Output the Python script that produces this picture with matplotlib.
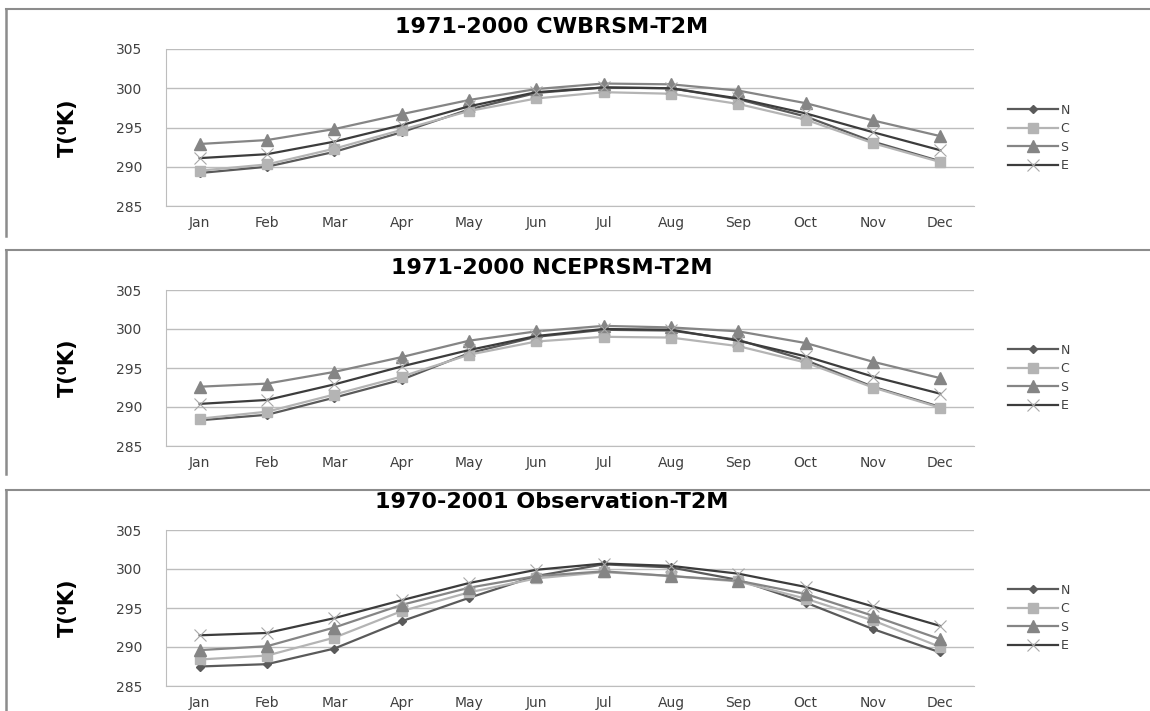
import matplotlib
matplotlib.use('Agg')
import matplotlib.pyplot as plt
from matplotlib.lines import Line2D

months = ['Jan', 'Feb', 'Mar', 'Apr', 'May', 'Jun', 'Jul', 'Aug', 'Sep', 'Oct', 'Nov', 'Dec']
titles = ['1971-2000 CWBRSM-T2M', '1971-2000 NCEPRSM-T2M', '1970-2001 Observation-T2M']

# 1971-2000 CWBRSM
cwb_n = [289.2, 290.0, 291.9, 294.4, 297.3, 299.4, 300.1, 300.0, 298.6, 296.4, 293.2, 290.7]
cwb_c = [289.5, 290.3, 292.3, 294.7, 297.1, 298.7, 299.5, 299.3, 298.0, 296.0, 293.0, 290.6]
cwb_s = [292.9, 293.4, 294.8, 296.7, 298.5, 299.9, 300.6, 300.5, 299.7, 298.1, 295.9, 293.9]
cwb_e = [291.1, 291.6, 293.2, 295.3, 297.7, 299.5, 300.1, 300.0, 298.7, 296.8, 294.4, 292.1]

# 1971-2000 NCEPRSM
ncep_n = [288.3, 289.0, 291.2, 293.5, 296.9, 299.0, 299.9, 299.8, 298.6, 296.0, 292.6, 290.0]
ncep_c = [288.5, 289.4, 291.6, 293.9, 296.7, 298.4, 299.0, 298.9, 297.8, 295.7, 292.5, 289.9]
ncep_s = [292.6, 293.0, 294.5, 296.4, 298.5, 299.7, 300.4, 300.2, 299.7, 298.2, 295.8, 293.7]
ncep_e = [290.4, 290.9, 292.9, 295.2, 297.3, 299.1, 300.0, 299.9, 298.5, 296.5, 293.9, 291.7]

# 1970-2001 observation
obs_n = [287.5, 287.8, 289.8, 293.3, 296.3, 299.1, 300.6, 300.2, 298.6, 295.7, 292.3, 289.3]
obs_c = [288.4, 288.9, 291.2, 294.6, 297.0, 298.8, 299.6, 299.1, 298.4, 296.2, 293.4, 290.0]
obs_s = [289.6, 290.1, 292.5, 295.4, 297.6, 299.1, 299.7, 299.1, 298.5, 296.8, 294.0, 291.0]
obs_e = [291.5, 291.8, 293.7, 296.0, 298.2, 299.9, 300.7, 300.4, 299.4, 297.7, 295.2, 292.7]

panels = [
    (cwb_n, cwb_c, cwb_s, cwb_e),
    (ncep_n, ncep_c, ncep_s, ncep_e),
    (obs_n, obs_c, obs_s, obs_e),
]
names = ['N', 'C', 'S', 'E']

styles = [
    dict(color='#5a5a5a', lw=1.6, marker='D', ms=4.5, mfc='#5a5a5a', mec='#5a5a5a'),
    dict(color='#b4b4b4', lw=1.6, marker='s', ms=7, mfc='#b4b4b4', mec='#b4b4b4'),
    dict(color='#858585', lw=1.6, marker='^', ms=8, mfc='#858585', mec='#858585'),
    dict(color='#3c3c3c', lw=1.6, marker='x', ms=9, mec='#a8a8a8', mew=0.8),
]

W, H = 1150, 711
fig = plt.figure(figsize=(W / 100, H / 100), dpi=100)

ax_top = [49, 290, 530]
ax_bot = [206, 446, 686]
frame_top = [9, 250, 490]
frame_bot = [236, 474, 711]
title_y = [27, 268, 502]
legend_y = [138, 378, 618]
ax_left, ax_right = 166, 974

for i, data in enumerate(panels):
    # chart frame (left and top edges only, rest is cropped)
    fig.add_artist(Line2D([6 / W, 6 / W], [1 - frame_top[i] / H, 1 - frame_bot[i] / H],
                          transform=fig.transFigure, color='#8c8c8c', lw=1.8))
    fig.add_artist(Line2D([6 / W, 1.0], [1 - frame_top[i] / H, 1 - frame_top[i] / H],
                          transform=fig.transFigure, color='#8c8c8c', lw=1.5))

    ax = fig.add_axes([ax_left / W, 1 - ax_bot[i] / H,
                       (ax_right - ax_left) / W, (ax_bot[i] - ax_top[i]) / H])
    for vals, name, st in zip(data, names, styles):
        ax.plot(months, vals, label=name, **st)

    ax.set_ylim(285, 305)
    ax.set_yticks([285, 290, 295, 300, 305])
    ax.set_xlim(-0.5, 11.5)
    ax.grid(axis='y', color='#bdbdbd', lw=1.0)
    ax.set_axisbelow(True)
    for s in ['top', 'right']:
        ax.spines[s].set_visible(False)
    ax.spines['left'].set_color('#bdbdbd')
    ax.spines['bottom'].set_color('#bdbdbd')
    ax.tick_params(axis='both', length=0, labelsize=10, labelcolor='#404040')
    ax.tick_params(axis='y', pad=17)
    ax.tick_params(axis='x', pad=7)

    fig.text(68 / W, 1 - (ax_top[i] + ax_bot[i]) / 2 / H, 'T(⁰K)', rotation=90,
             ha='center', va='center', fontsize=15, fontweight='bold')
    fig.text(552 / W, 1 - title_y[i] / H, titles[i], ha='center', va='center',
             fontsize=16, fontweight='bold')

    ax.legend(loc='center left', bbox_to_anchor=(1008 / W, 1 - legend_y[i] / H),
              bbox_transform=fig.transFigure, frameon=False, fontsize=9,
              handlelength=4.0, handletextpad=0.2, labelspacing=0.45,
              borderpad=0, borderaxespad=0, labelcolor='#404040')

fig.savefig('out.png', dpi=100, facecolor='white')
